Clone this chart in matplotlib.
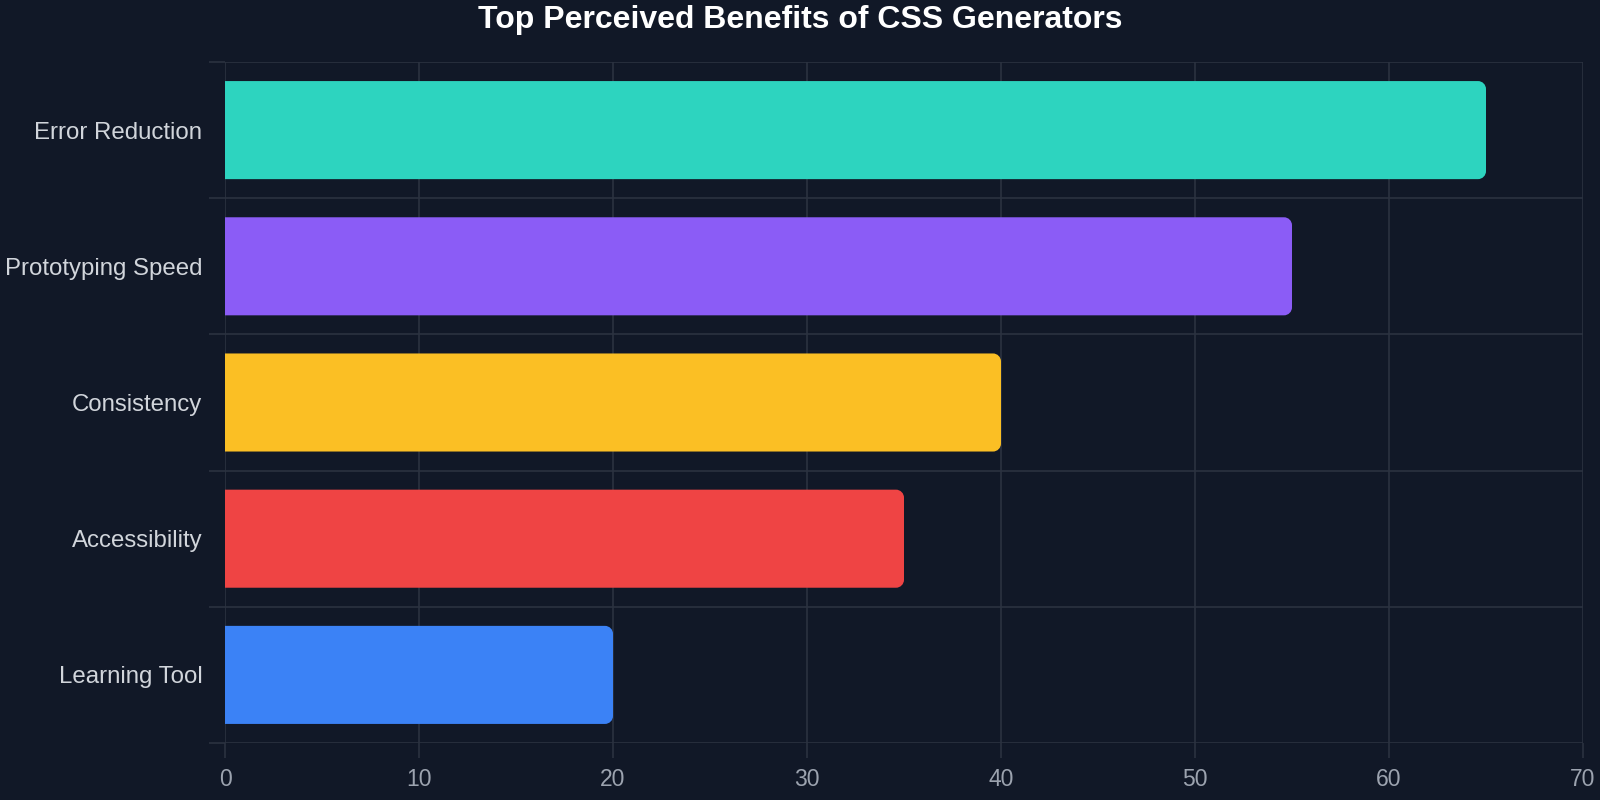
import matplotlib
matplotlib.use("Agg")
import matplotlib.pyplot as plt
from matplotlib.path import Path
from matplotlib.patches import PathPatch
import numpy as np

categories = ["Error Reduction", "Prototyping Speed", "Consistency", "Accessibility", "Learning Tool"]
values = [65, 55, 40, 35, 20]
colors = ["#2dd4bf", "#8b5cf6", "#fbbf24", "#ef4444", "#3b82f6"]
x_ticks = [0, 10, 20, 30, 40, 50, 60, 70]
title = "Top Perceived Benefits of CSS Generators"

BG = "#111827"
GRID = "#2b3240"

plt.rcParams['font.family'] = ['Liberation Sans', 'DejaVu Sans']

W, H = 1600, 800
L, R, T, B = 225, 1583, 62, 743
fig = plt.figure(figsize=(16, 8), dpi=100, facecolor=BG)
ax = fig.add_axes([L/W, (H-B)/H, (R-L)/W, (B-T)/H])
ax.set_facecolor(BG)

y = np.arange(len(categories))
bars = ax.barh(y, values, height=0.72, color=colors)
ax.set_xlim(0, 70)
ax.set_ylim(len(categories) - 0.5, -0.5)

# replace bars with rounded-right-corner paths
r_px = 8
px_per_x = (R - L) / 70.0
px_per_y = (B - T) / len(categories)
rx = r_px / px_per_x
ry = r_px / px_per_y
k = 0.5523
for b in bars:
    x0, y0 = b.get_x(), b.get_y()
    w, h = b.get_width(), b.get_height()
    x1, y1 = x0 + w, y0 + h
    verts = [
        (x0, y0), (x1 - rx, y0),
        (x1 - rx + k*rx, y0), (x1, y0 + ry - k*ry), (x1, y0 + ry),
        (x1, y1 - ry),
        (x1, y1 - ry + k*ry), (x1 - rx + k*rx, y1), (x1 - rx, y1),
        (x0, y1), (x0, y0)
    ]
    codes = [Path.MOVETO, Path.LINETO,
             Path.CURVE4, Path.CURVE4, Path.CURVE4,
             Path.LINETO,
             Path.CURVE4, Path.CURVE4, Path.CURVE4,
             Path.LINETO, Path.CLOSEPOLY]
    patch = PathPatch(Path(verts, codes), facecolor=b.get_facecolor(), edgecolor='none', zorder=3)
    ax.add_patch(patch)
    b.set_visible(False)

for s in ax.spines.values():
    s.set_visible(False)

ax.set_xticks(x_ticks)
ax.set_xticklabels([str(t) for t in x_ticks])
ax.tick_params(axis='x', which='major', length=10.8, width=1.2, color=GRID,
               labelcolor="#9ca3af", labelsize=16.5, pad=7.5)
ax.xaxis.grid(True, which='major', color=GRID, linewidth=1.2, zorder=0)

ax.set_yticks(y)
ax.set_yticklabels(categories)
ax.set_yticks(np.arange(-0.5, len(categories)), minor=True)
ax.tick_params(axis='y', which='major', length=0, labelcolor="#d1d5db",
               labelsize=17.3, pad=16.3)
ax.tick_params(axis='y', which='minor', length=11.5, width=1.2, color=GRID)
ax.yaxis.grid(True, which='minor', color=GRID, linewidth=1.2, zorder=0)
ax.yaxis.grid(False, which='major')
ax.set_axisbelow(True)

fig.text(0.5, 1 - 20/800, title, ha='center', va='center',
         color='white', fontsize=23, fontweight='bold')

fig.savefig("out.png", dpi=100, facecolor=BG)
